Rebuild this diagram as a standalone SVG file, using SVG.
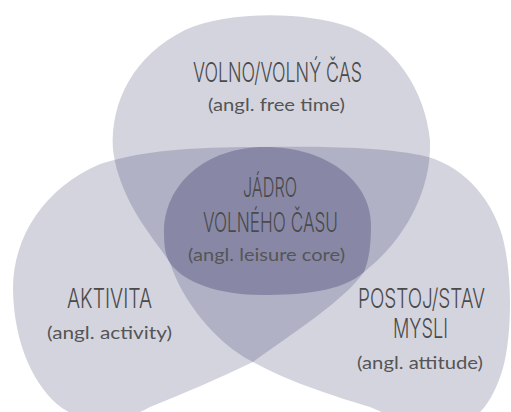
<svg xmlns="http://www.w3.org/2000/svg" width="511" height="412" viewBox="0 0 511 412">
<style>
.blob{fill:rgb(40,40,95);fill-opacity:0.2}
.core{fill:rgb(40,40,95);fill-opacity:0.11}
.cap{font-family:Inter,"DejaVu Sans","Liberation Sans",sans-serif;font-weight:300;font-size:27px;fill:#4a4a4a}
.sub{font-family:Lato,"Open Sans","Noto Sans",sans-serif;font-size:17px;fill:#555}
</style>
<rect width="511" height="412" fill="#fff"/>
<g id="free-time">
<path class="blob" d="M113,150 C110,100 135,55 185,30 C225,12 300,10 350,27 C395,45 425,90 430,140 C432,190 405,240 364,272 C342,292 300,295 262,295 C220,295 184,283 170,263 C160,245 120,205 113,150 Z"/>
<text class="cap" x="193" y="82" textLength="169" lengthAdjust="spacingAndGlyphs">VOLNO/VOLNÝ ČAS</text>
<text class="sub" x="208" y="111" textLength="137" lengthAdjust="spacingAndGlyphs">(angl. free time)</text>
</g>
<g id="activity">
<path class="blob" d="M265,147 C325,147 371,180 371,225 C371,245 369,260 364,272 C345,300 290,335 253,362 C220,378 185,393 150,407 C120,424 85,424 62,408 C35,388 14,345 13,290 C13,235 45,188 100,164 C150,148 210,147 265,147 Z"/>
<text class="cap" x="67" y="308" textLength="85" lengthAdjust="spacingAndGlyphs">AKTIVITA</text>
<text class="sub" x="47" y="339" textLength="125" lengthAdjust="spacingAndGlyphs">(angl. activity)</text>
</g>
<g id="attitude">
<path class="blob" d="M265,147 C320,146 380,147 420,155 C460,163 490,195 502,235 C513,275 512,335 503,368 C495,395 482,418 460,425 C430,434 400,420 370,407 C330,395 285,380 253,362 C215,343 182,300 170,263 C165,255 164,245 164,232 C164,185 205,147 265,147 Z"/>
<text class="cap" x="358" y="308" textLength="127" lengthAdjust="spacingAndGlyphs">POSTOJ/STAV</text>
<text class="cap" x="393" y="338" textLength="55" lengthAdjust="spacingAndGlyphs">MYSLI</text>
<text class="sub" x="357" y="369" textLength="126" lengthAdjust="spacingAndGlyphs">(angl. attitude)</text>
</g>
<g id="leisure-core">
<path class="core" d="M265,147 C325,147 371,180 371,225 C371,245 369,260 364,272 C342,292 300,295 262,295 C220,295 184,283 170,263 C165,255 164,245 164,232 C164,185 205,147 265,147 Z"/>
<text class="cap" x="243" y="197" textLength="54" lengthAdjust="spacingAndGlyphs">JÁDRO</text>
<text class="cap" x="203" y="232" textLength="135" lengthAdjust="spacingAndGlyphs">VOLNÉHO ČASU</text>
<text class="sub" x="188" y="261" textLength="157" lengthAdjust="spacingAndGlyphs">(angl. leisure core)</text>
</g>
<g id="connectors"/>
</svg>
